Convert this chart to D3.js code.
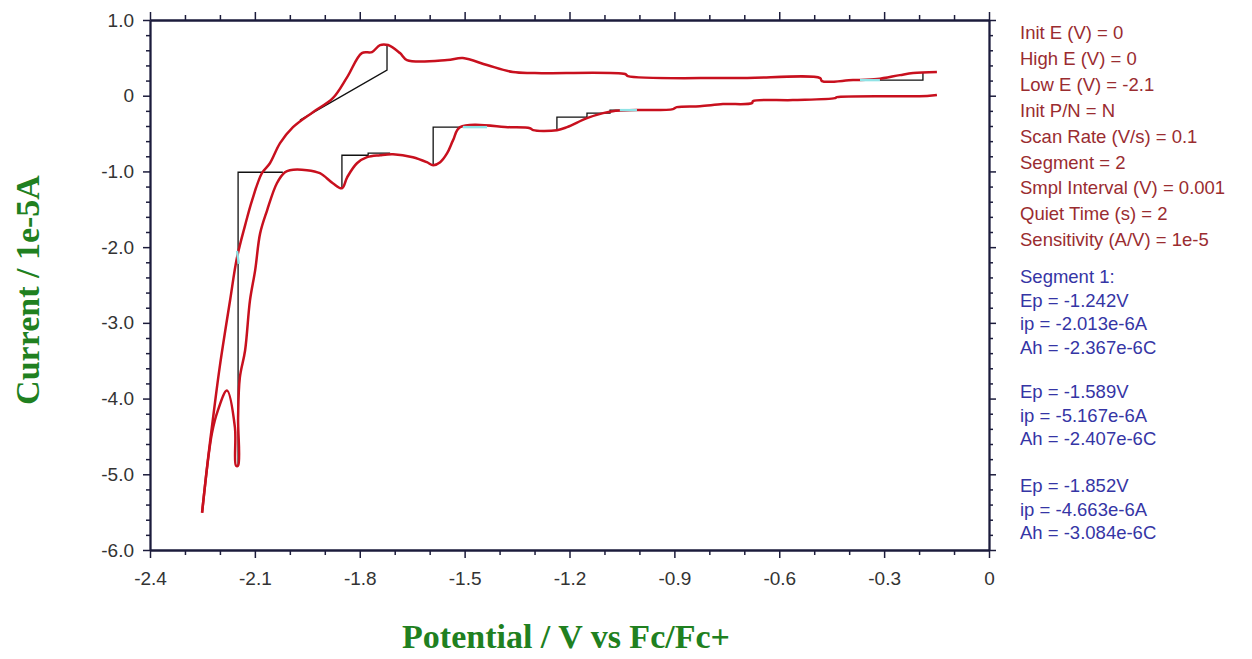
<!DOCTYPE html>
<html>
<head>
<meta charset="utf-8">
<script src="https://cdn.jsdelivr.net/npm/d3@7"></script>
<style>
  body { margin: 0; background: #fff; }
  svg { display: block; }
</style>
</head>
<body>
<script>
// forward (cathodic) sweep: potential (V vs Fc/Fc+) and current (1e-5 A)
const fwdE = [-0.149, -0.177, -0.435, -0.441, -0.561, -0.675, -0.678, -0.761, -0.827, -0.893, -0.904,
  -1.007, -1.076, -1.104, -1.150, -1.207, -1.236, -1.304, -1.313, -1.370, -1.513, -1.533, -1.550,
  -1.570, -1.590, -1.608, -1.648, -1.705, -1.742, -1.779, -1.808, -1.836, -1.851, -1.877, -1.914,
  -1.951, -2.000, -2.014, -2.037, -2.065, -2.085, -2.099, -2.114, -2.128, -2.143, -2.148, -2.148,
  -2.154, -2.157, -2.180, -2.206, -2.223, -2.251];
const fwdI = [0.008, -0.005, -0.019, -0.032, -0.058, -0.071, -0.098, -0.111, -0.138, -0.151, -0.177,
  -0.190, -0.204, -0.230, -0.296, -0.415, -0.455, -0.455, -0.429, -0.415, -0.415, -0.587, -0.759,
  -0.878, -0.918, -0.878, -0.812, -0.773, -0.786, -0.812, -0.892, -1.077, -1.222, -1.156, -1.024,
  -0.984, -0.984, -1.011, -1.156, -1.513, -1.818, -2.300, -2.704, -3.365, -3.722, -4.252, -4.886,
  -4.886, -4.384, -3.894, -4.159, -4.463, -5.508];

// return (anodic) sweep
const revE = [-2.251, -2.249, -2.234, -2.217, -2.200, -2.171, -2.151, -2.128, -2.108, -2.080, -2.057,
  -2.028, -1.991, -1.934, -1.877, -1.836, -1.794, -1.765, -1.742, -1.719, -1.685, -1.665, -1.550,
  -1.505, -1.436, -1.362, -1.299, -1.041, -1.033, -0.732, -0.483, -0.478, -0.389, -0.320, -0.255,
  -0.217, -0.149];
const revI = [-5.508, -5.416, -4.794, -4.159, -3.564, -2.704, -2.135, -1.712, -1.381, -1.024, -0.892,
  -0.627, -0.415, -0.217, -0.032, 0.246, 0.563, 0.577, 0.669, 0.669, 0.563, 0.471, 0.471,
  0.497, 0.405, 0.312, 0.299, 0.286, 0.259, 0.233, 0.233, 0.193, 0.206, 0.220, 0.272,
  0.299, 0.312];

// peak baselines drawn by the instrument software
const base1E = [-1.236, -1.236, -1.150, -1.150, -1.084, -1.084, -1.007];
const base1I = [-0.455, -0.283, -0.283, -0.230, -0.230, -0.190, -0.190];
const base2E = [-1.590, -1.590, -1.513];
const base2I = [-0.918, -0.415, -0.415];
const base3E = [-1.851, -1.851, -1.776, -1.776, -1.713];
const base3I = [-1.222, -0.786, -0.786, -0.759, -0.759];
const base4E = [-2.020, -2.148, -2.148];
const base4I = [-1.011, -1.011, -4.886];
const base5E = [-1.971, -1.722, -1.722];
const base5I = [-0.323, 0.339, 0.669];
const base6E = [-0.320, -0.189, -0.189];
const base6I = [0.206, 0.206, 0.312];

// small cyan marks
const cyanE = [[-0.369, -0.312], [-1.505, -1.436], [-1.056, -1.007], [-2.151, -2.146]];
const cyanI = [[0.206, 0.206], [-0.415, -0.415], [-0.190, -0.190], [-2.05, -2.22]];

const xMajor = [-2.4, -2.1, -1.8, -1.5, -1.2, -0.9, -0.6, -0.3, 0];
const yMajor = [1, 0, -1, -2, -3, -4, -5, -6];
const yTickLabels = ["1.0", "0", "-1.0", "-2.0", "-3.0", "-4.0", "-5.0", "-6.0"];
const xTickLabels = ["-2.4", "-2.1", "-1.8", "-1.5", "-1.2", "-0.9", "-0.6", "-0.3", "0"];

const paramLines = ["Init E (V) = 0", "High E (V) = 0", "Low E (V) = -2.1", "Init P/N = N",
  "Scan Rate (V/s) = 0.1", "Segment = 2", "Smpl Interval (V) = 0.001", "Quiet Time (s) = 2",
  "Sensitivity (A/V) = 1e-5"];
const peakGroups = [
  ["Segment 1:", "Ep = -1.242V", "ip = -2.013e-6A", "Ah = -2.367e-6C"],
  ["Ep = -1.589V", "ip = -5.167e-6A", "Ah = -2.407e-6C"],
  ["Ep = -1.852V", "ip = -4.663e-6A", "Ah = -3.084e-6C"]
];

const W = 1252, H = 659;
const margin = { top: 20, right: 263, bottom: 109, left: 150 };
const width = W - margin.left - margin.right,
      height = H - margin.top - margin.bottom;

const svg = d3.select("body").append("svg")
    .attr("width", W)
    .attr("height", H);

const g = svg.append("g")
    .attr("transform", `translate(${margin.left},${margin.top})`);

const x = d3.scaleLinear().domain([-2.4, 0]).range([0, width]);
const y = d3.scaleLinear().domain([-6, 1]).range([height, 0]);

const axisColor = "#1c1c3c";
const tickFont = "Liberation Sans, Arial, sans-serif";

// minor ticks
const xMinor = d3.range(-24, 1).map(d => d / 10).filter(v => !xMajor.some(m => Math.abs(m - v) < 1e-6));
const yMinor = d3.range(-30, 6).map(d => d / 5).filter(v => !yMajor.some(m => Math.abs(m - v) < 1e-6));

function styleAxis(sel) {
  sel.select(".domain").attr("stroke", axisColor).attr("stroke-width", 1.8);
  sel.selectAll(".tick line").attr("stroke", axisColor).attr("stroke-width", 1.5);
  sel.selectAll(".tick text")
    .attr("fill", "#333")
    .style("font-family", tickFont)
    .style("font-size", "19px");
}

// bottom
g.append("g").attr("transform", `translate(0,${height})`)
  .call(d3.axisBottom(x).tickValues(xMinor).tickSize(5).tickFormat("").tickSizeOuter(0))
  .call(styleAxis);
g.append("g").attr("transform", `translate(0,${height})`)
  .call(d3.axisBottom(x).tickValues(xMajor).tickSize(8).tickPadding(14)
    .tickFormat((d, i) => xTickLabels[i]).tickSizeOuter(0))
  .call(styleAxis);
// top
g.append("g")
  .call(d3.axisTop(x).tickValues(xMinor).tickSize(5).tickFormat("").tickSizeOuter(0))
  .call(styleAxis);
g.append("g")
  .call(d3.axisTop(x).tickValues(xMajor).tickSize(8).tickFormat("").tickSizeOuter(0))
  .call(styleAxis);
// left
g.append("g")
  .call(d3.axisLeft(y).tickValues(yMinor).tickSize(4).tickFormat("").tickSizeOuter(0))
  .call(styleAxis);
g.append("g")
  .call(d3.axisLeft(y).tickValues(yMajor).tickSize(7).tickPadding(9)
    .tickFormat((d, i) => yTickLabels[i]).tickSizeOuter(0))
  .call(styleAxis);
// right
g.append("g").attr("transform", `translate(${width},0)`)
  .call(d3.axisRight(y).tickValues(yMinor).tickSize(4).tickFormat("").tickSizeOuter(0))
  .call(styleAxis);
g.append("g").attr("transform", `translate(${width},0)`)
  .call(d3.axisRight(y).tickValues(yMajor).tickSize(7).tickFormat("").tickSizeOuter(0))
  .call(styleAxis);

const line = d3.line().x(d => x(d[0])).y(d => y(d[1]));
const smooth = d3.line().x(d => x(d[0])).y(d => y(d[1])).curve(d3.curveCatmullRom.alpha(0.5));
const zip = (a, b) => a.map((v, i) => [v, b[i]]);

// baselines (black)
[[base1E, base1I], [base2E, base2I], [base3E, base3I], [base4E, base4I], [base5E, base5I], [base6E, base6I]]
  .forEach(([e, c]) => {
    g.append("path")
      .attr("d", line(zip(e, c)))
      .attr("fill", "none")
      .attr("stroke", "#111")
      .attr("stroke-width", 1.3);
  });

// CV curve
[[fwdE, fwdI], [revE, revI]].forEach(([e, c]) => {
  g.append("path")
    .attr("d", smooth(zip(e, c)))
    .attr("fill", "none")
    .attr("stroke", "#c8101e")
    .attr("stroke-width", 2.5)
    .attr("stroke-linejoin", "round");
});

cyanE.forEach((e, i) => {
  g.append("path")
    .attr("d", line(zip(e, cyanI[i])))
    .attr("fill", "none")
    .attr("stroke", "#8fe3e6")
    .attr("stroke-width", 2.4);
});

// axis titles
const titleFont = "Liberation Serif, 'Times New Roman', serif";
svg.append("text")
  .attr("x", 566)
  .attr("y", 648)
  .attr("text-anchor", "middle")
  .attr("fill", "#208020")
  .style("font-family", titleFont)
  .style("font-weight", "bold")
  .style("font-size", "34px")
  .text("Potential / V vs Fc/Fc+");

svg.append("text")
  .attr("transform", "translate(39,290) rotate(-90)")
  .attr("text-anchor", "middle")
  .attr("fill", "#208020")
  .style("font-family", titleFont)
  .style("font-weight", "bold")
  .style("font-size", "34px")
  .text("Current / 1e-5A");

// parameter panel
const panel = svg.append("g").style("font-family", tickFont).style("font-size", "18.5px");
paramLines.forEach((t, i) => {
  panel.append("text")
    .attr("x", 1020)
    .attr("y", 39 + i * 25.9)
    .attr("fill", "#9a2c30")
    .text(t);
});
const groupTop = [283, 398, 492];
peakGroups.forEach((grp, gi) => {
  grp.forEach((t, i) => {
    panel.append("text")
      .attr("x", 1020)
      .attr("y", groupTop[gi] + i * 23.7)
      .attr("fill", "#3535a5")
      .text(t);
  });
});
</script>
</body>
</html>
